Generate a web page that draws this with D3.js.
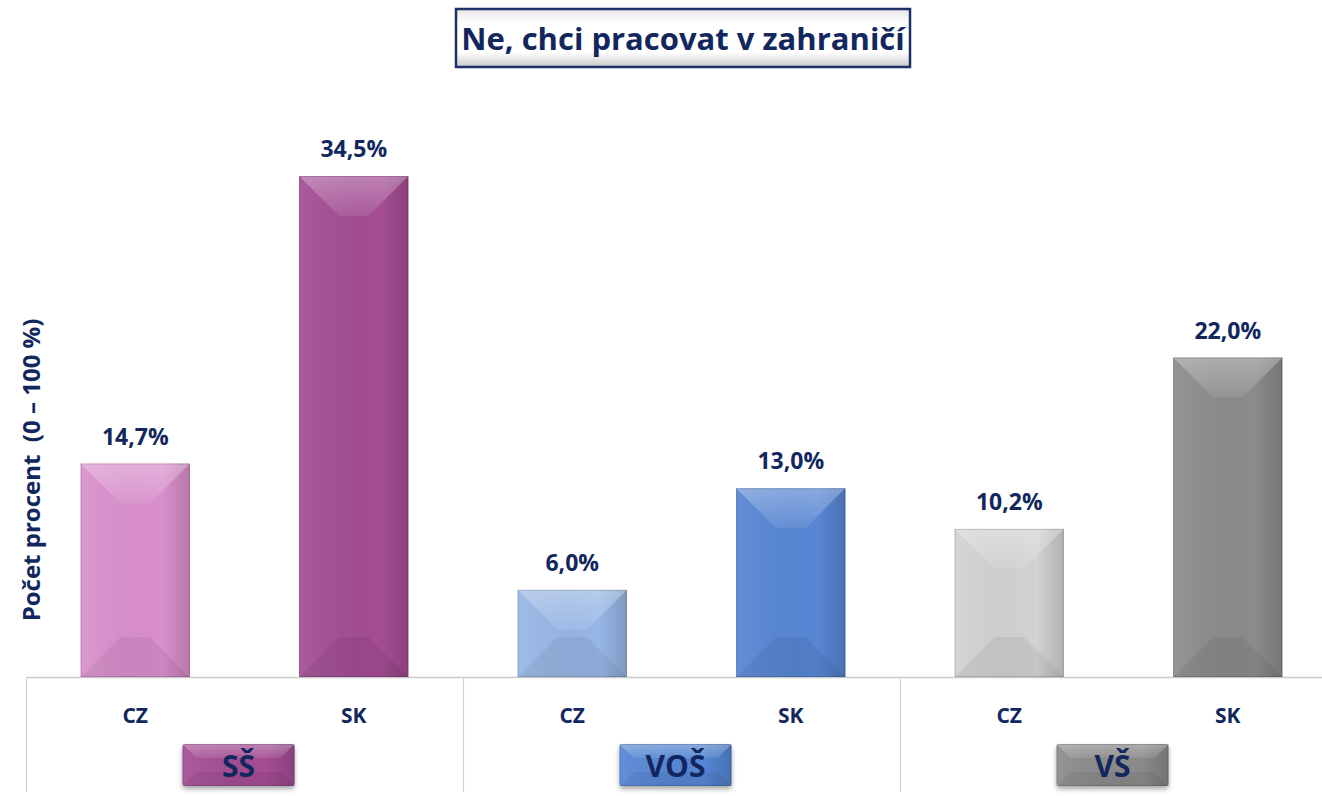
<!DOCTYPE html>
<html>
<head>
<meta charset="utf-8">
<script src="https://cdn.jsdelivr.net/npm/d3@7"></script>
<style>
body { margin: 0; background: #fff; }
svg text { font-family: "Open Sans", "Noto Sans", sans-serif; font-weight: bold; fill: #12275e; white-space: pre; }
</style>
</head>
<body>
<div id="chart"></div>
<script>
// data
var groups = ["SŠ", "VOŠ", "VŠ"];
var categories = ["CZ", "SK"];
var valuesCZ = [14.7, 6.0, 10.2];
var valuesSK = [34.5, 13.0, 22.0];
var labelsCZ = ["14,7%", "6,0%", "10,2%"];
var labelsSK = ["34,5%", "13,0%", "22,0%"];
var colorsCZ = ["#d98fcc", "#97b6e6", "#d2d2d2"];
var colorsSK = ["#a44d94", "#5786d4", "#8b8b8b"];

var width = 1322, height = 796;
var baseY = 677;
var plotLeft = 26, groupW = 437;

var svg = d3.select("#chart").append("svg")
  .attr("width", width)
  .attr("height", height);

var defs = svg.append("defs");
var sideGrad = defs.append("linearGradient").attr("id", "side").attr("x1", 0).attr("x2", 1);
sideGrad.append("stop").attr("offset", "0%").attr("stop-color", "#fff").attr("stop-opacity", 0.08);
sideGrad.append("stop").attr("offset", "75%").attr("stop-color", "#000").attr("stop-opacity", 0.0);
sideGrad.append("stop").attr("offset", "100%").attr("stop-color", "#000").attr("stop-opacity", 0.16);

var topGrad = defs.append("linearGradient").attr("id", "topg").attr("x1", 0).attr("x2", 0).attr("y1", 0).attr("y2", 1);
topGrad.append("stop").attr("offset", "0%").attr("stop-color", "#fff").attr("stop-opacity", 0.3);
topGrad.append("stop").attr("offset", "100%").attr("stop-color", "#fff").attr("stop-opacity", 0.08);

var titleGrad = defs.append("linearGradient").attr("id", "titleg").attr("x1", 0).attr("x2", 0).attr("y1", 0).attr("y2", 1);
titleGrad.append("stop").attr("offset", "0%").attr("stop-color", "#e6e6e6");
titleGrad.append("stop").attr("offset", "25%").attr("stop-color", "#ffffff");
titleGrad.append("stop").attr("offset", "75%").attr("stop-color", "#ffffff");
titleGrad.append("stop").attr("offset", "100%").attr("stop-color", "#c8c8c8");

var shadow = defs.append("filter").attr("id", "shadow").attr("x", "-20%").attr("y", "-20%").attr("width", "140%").attr("height", "160%");
shadow.append("feDropShadow").attr("dx", 0).attr("dy", 3).attr("stdDeviation", 2.5).attr("flood-color", "#000").attr("flood-opacity", 0.35);

var table = [];
groups.forEach(function(g, i) {
  table.push({group: g, cat: "CZ", value: valuesCZ[i], label: labelsCZ[i], color: colorsCZ[i]});
  table.push({group: g, cat: "SK", value: valuesSK[i], label: labelsSK[i], color: colorsSK[i]});
});

var x0 = d3.scaleBand().domain(groups).range([plotLeft, plotLeft + groupW * groups.length]);
var x1 = d3.scaleBand().domain(categories).range([0, x0.bandwidth()]).paddingInner(0.5).paddingOuter(0.25);
var y = d3.scaleLinear().domain([0, 34.5]).range([baseY, 176]);

// axis line and separators
svg.append("line")
  .attr("x1", plotLeft).attr("x2", width)
  .attr("y1", baseY + 0.5).attr("y2", baseY + 0.5)
  .attr("stroke", "#c9c9c9").attr("stroke-width", 1.5);

svg.selectAll(".sep")
  .data(groups.concat(["end"]))
  .enter().append("line")
  .attr("class", "sep")
  .attr("x1", function(d, i) { return plotLeft + i * groupW + 0.5; })
  .attr("x2", function(d, i) { return plotLeft + i * groupW + 0.5; })
  .attr("y1", baseY).attr("y2", 792)
  .attr("stroke", "#d0d0d0").attr("stroke-width", 1.2);

function bevel(sel, x, yTop, w, h, b) {
  sel.append("rect").attr("x", x).attr("y", yTop).attr("width", w).attr("height", h).attr("fill", "url(#side)");
  var pts = function(a) { return a.map(function(p) { return p.join(","); }).join(" "); };
  sel.append("polygon")
    .attr("points", pts([[x, yTop], [x + w, yTop], [x + w - b, yTop + b], [x + b, yTop + b]]))
    .attr("fill", "url(#topg)");
  sel.append("polygon")
    .attr("points", pts([[x, yTop + h], [x + w, yTop + h], [x + w - b, yTop + h - b], [x + b, yTop + h - b]]))
    .attr("fill", "#000").attr("fill-opacity", 0.06);
  sel.append("rect").attr("x", x + 0.5).attr("y", yTop + 0.5).attr("width", w - 1).attr("height", h - 1)
    .attr("fill", "none").attr("stroke", "#000").attr("stroke-opacity", 0.15);
}

var bars = svg.selectAll(".bar")
  .data(table)
  .enter().append("g")
  .attr("class", "bar");

bars.each(function(d) {
  var g = d3.select(this);
  var bx = x0(d.group) + x1(d.cat);
  var bw = x1.bandwidth();
  var by = y(d.value);
  var bh = baseY - by;
  g.append("rect").attr("x", bx).attr("y", by).attr("width", bw).attr("height", bh).attr("fill", d.color);
  bevel(g, bx, by, bw, bh, Math.min(40, bh / 2));
  g.append("text")
    .attr("x", bx + bw / 2)
    .attr("y", by - 19)
    .attr("text-anchor", "middle")
    .style("font-size", "23px")
    .text(d.label);
});

// category labels
svg.selectAll(".cat")
  .data(table)
  .enter().append("text")
  .attr("class", "cat")
  .attr("x", function(d) { return x0(d.group) + x1(d.cat) + x1.bandwidth() / 2; })
  .attr("y", 723)
  .attr("text-anchor", "middle")
  .style("font-size", "21px")
  .text(function(d) { return d.cat; });

// group label boxes
var gb = svg.selectAll(".gbox")
  .data(groups)
  .enter().append("g")
  .attr("class", "gbox");

gb.each(function(d, i) {
  var g = d3.select(this);
  var cx = x0(d) + x0.bandwidth() / 2 - 6;
  var bw = 112, bh = 42, bx = cx - bw / 2, by = 744;
  g.append("rect").attr("x", bx).attr("y", by).attr("width", bw).attr("height", bh)
    .attr("rx", 3).attr("fill", colorsSK[i]).attr("filter", "url(#shadow)");
  bevel(g, bx, by, bw, bh, 14);
  g.append("text")
    .attr("x", cx)
    .attr("y", by + 33)
    .attr("text-anchor", "middle")
    .style("font-size", "30px")
    .text(d);
});

// title
svg.append("rect")
  .attr("x", 456).attr("y", 9).attr("width", 454).attr("height", 58)
  .attr("fill", "url(#titleg)")
  .attr("stroke", "#1d2f66").attr("stroke-width", 2.5);
svg.append("text")
  .attr("x", 683).attr("y", 50)
  .attr("text-anchor", "middle")
  .style("font-size", "31px")
  .text("Ne, chci pracovat v zahraničí");

// y axis label
svg.append("text")
  .attr("transform", "translate(40,470) rotate(-90)")
  .attr("text-anchor", "middle")
  .style("font-size", "24px")
  .text("Počet procent  (0 – 100 %)");
</script>
</body>
</html>
